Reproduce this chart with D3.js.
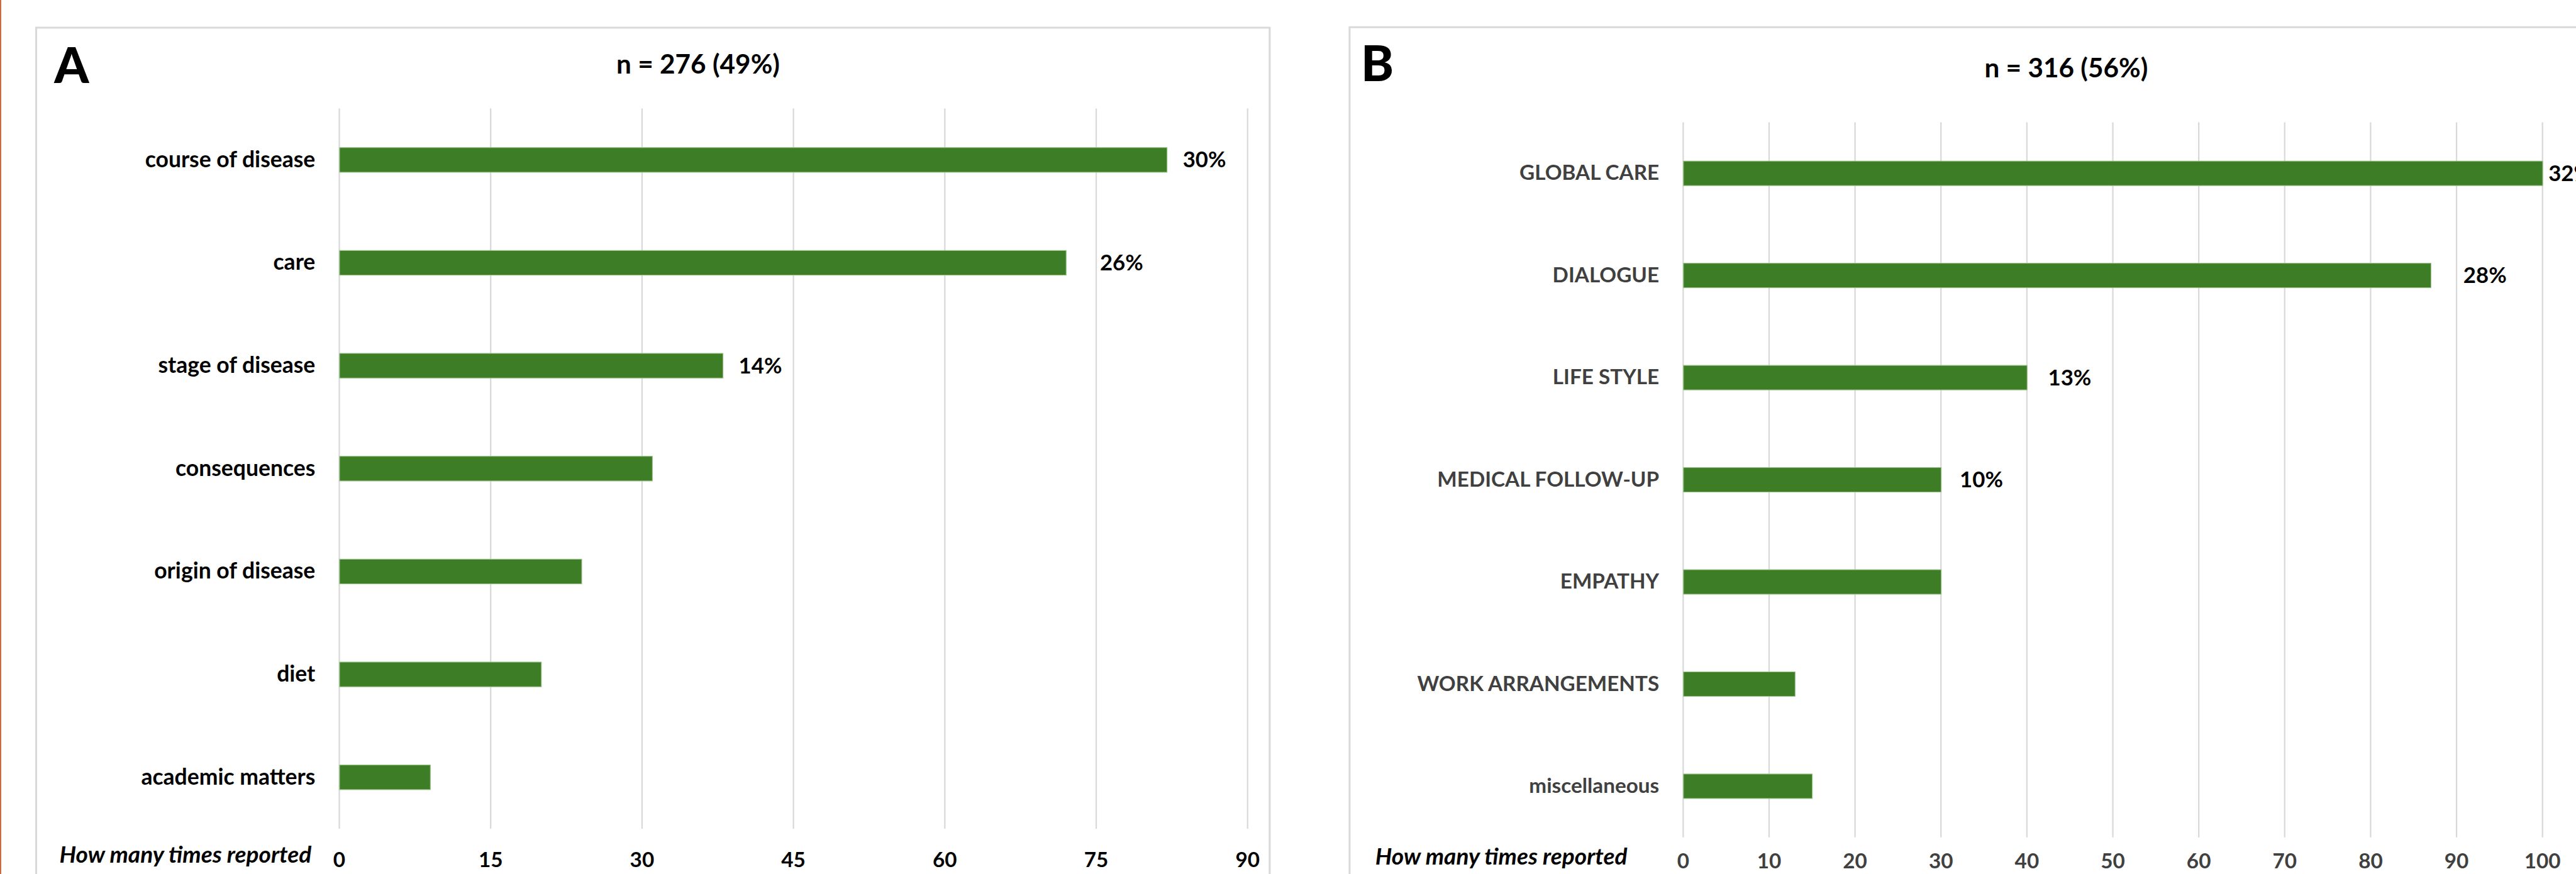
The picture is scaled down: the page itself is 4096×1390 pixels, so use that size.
<!DOCTYPE html>
<html>
<head>
<meta charset="utf-8">
<script src="https://cdn.jsdelivr.net/npm/d3@7"></script>
<style>
  html, body { margin: 0; padding: 0; background: #fff; overflow: hidden; }
  #viewer { width: 4096px; height: 1390px; }
  svg { display: block; }
</style>
</head>
<body>
<div id="viewer"></div>
<script>
// panel A
const categoriesA = ['course of disease', 'care', 'stage of disease', 'consequences', 'origin of disease', 'diet', 'academic matters'];
const valuesA = [82, 72, 38, 31, 24, 20, 9];
const labelsA = ['30%', '26%', '14%', '', '', '', ''];
const ticksA = [0, 15, 30, 45, 60, 75, 90];

// panel B
const categoriesB = ['GLOBAL CARE', 'DIALOGUE', 'LIFE STYLE', 'MEDICAL FOLLOW-UP', 'EMPATHY', 'WORK ARRANGEMENTS', 'miscellaneous'];
const valuesB = [100, 87, 40, 30, 30, 13, 15];
const labelsB = ['32%', '28%', '13%', '10%', '', '', ''];
const ticksB = [0, 10, 20, 30, 40, 50, 60, 70, 80, 90, 100];

const titles = ['n = 276 (49%)', 'n = 316 (56%)'];
const letters = ['A', 'B'];
const axisTitle = 'How many times reported';

const FONT = 'Lato, "Open Sans", sans-serif';
const GREEN = '#3d7d25';
const GRID = '#d9d9d9';

// drawn in the reference's own pixel space, scaled down by the viewBox
const svg = d3.select('#viewer').append('svg')
    .attr('width', 4096)
    .attr('height', 1390)
    .attr('viewBox', '0 0 5417 1838')
    .style('font-family', FONT)
    .style('font-weight', 'bold');

svg.append('rect').attr('width', 5417).attr('height', 1838).attr('fill', '#fff');

// orange page edge on the far left
svg.append('line')
    .attr('x1', 1).attr('x2', 1).attr('y1', 0).attr('y2', 1838)
    .attr('stroke', '#c8643a').attr('stroke-width', 3);

const panels = [
    {
        categories: categoriesA, values: valuesA, labels: labelsA, ticks: ticksA,
        title: titles[0], letter: letters[0],
        box: [76, 58, 2670], x0: 713, x1: 2623, yTop: 228, yBot: 1743,
        titleX: 1468, titleY: 155, letterX: 114, letterY: 174,
        axisTitleX: 125, axisTitleY: 1815, labelColor: '#000', tickColor: '#000',
        labelSize: 47, tickPad: 50,
        labelGap: [34, 72, 34, 40, 40, 40, 40]
    },
    {
        categories: categoriesB, values: valuesB, labels: labelsB, ticks: ticksB,
        title: titles[1], letter: letters[1],
        box: [2838, 57, 5430], x0: 3539, x1: 5346, yTop: 257, yBot: 1761,
        titleX: 4345, titleY: 163, letterX: 2862, letterY: 170,
        axisTitleX: 2892, axisTitleY: 1818, labelColor: '#404040', tickColor: '#404040',
        labelSize: 44, tickPad: 34,
        labelGap: [13, 69, 45, 40, 40, 40, 40]
    }
];

panels.forEach(drawPanel);

function drawPanel(p) {
    const g = svg.append('g');

    // chart area border (bottom runs off the picture)
    g.append('path')
        .attr('d', `M${p.box[0]},1860 V${p.box[1]} H${p.box[2]} V1860`)
        .attr('fill', 'none')
        .attr('stroke', GRID)
        .attr('stroke-width', 4);

    const xScale = d3.scaleLinear()
        .domain([0, p.ticks[p.ticks.length - 1]])
        .range([p.x0, p.x1]);

    const yScale = d3.scaleBand()
        .domain(p.categories)
        .range([p.yTop, p.yBot])
        .paddingInner(0.76)
        .paddingOuter(0.38);

    // vertical gridlines + value labels
    const xAxis = d3.axisBottom(xScale)
        .tickValues(p.ticks)
        .tickSizeInner(-(p.yBot - p.yTop))
        .tickSizeOuter(0)
        .tickPadding(p.tickPad);

    const gx = g.append('g')
        .attr('transform', `translate(0,${p.yBot})`)
        .call(xAxis);
    gx.select('.domain').remove();
    gx.selectAll('.tick line').attr('stroke', GRID).attr('stroke-width', 3);
    gx.selectAll('.tick text')
        .attr('fill', p.tickColor)
        .style('font-family', FONT)
        .style('font-size', '44px')
        .style('font-weight', 'bold');
    gx.attr('font-family', null).attr('font-size', null);

    // category labels
    const yAxis = d3.axisLeft(yScale).tickSize(0).tickPadding(50);
    const gy = g.append('g')
        .attr('transform', `translate(${p.x0},0)`)
        .call(yAxis);
    gy.select('.domain').remove();
    gy.selectAll('.tick text')
        .attr('fill', p.labelColor)
        .style('font-family', FONT)
        .style('font-size', p.labelSize + 'px')
        .style('font-weight', 'bold');
    gy.attr('font-family', null).attr('font-size', null);

    // bars
    g.append('g').selectAll('rect')
        .data(p.values)
        .join('rect')
        .attr('x', xScale(0) + 1)
        .attr('y', (d, i) => yScale(p.categories[i]))
        .attr('width', d => xScale(d) - xScale(0))
        .attr('height', yScale.bandwidth())
        .attr('fill', GREEN)
        .attr('stroke', '#9cc48c')
        .attr('stroke-width', 1.5);

    // data labels
    g.append('g').selectAll('text')
        .data(p.values)
        .join('text')
        .attr('x', (d, i) => xScale(d) + p.labelGap[i])
        .attr('y', (d, i) => yScale(p.categories[i]) + yScale.bandwidth() / 2)
        .attr('dy', '0.35em')
        .attr('fill', '#000')
        .style('font-size', '46px')
        .text((d, i) => p.labels[i]);

    // title, panel letter, axis caption
    g.append('text')
        .attr('x', p.titleX).attr('y', p.titleY)
        .attr('text-anchor', 'middle')
        .attr('fill', '#000')
        .style('font-size', '56px')
        .text(p.title);

    g.append('text')
        .attr('x', p.letterX).attr('y', p.letterY)
        .attr('fill', '#000')
        .style('font-size', '104px')
        .style('font-weight', 900)
        .text(p.letter);

    g.append('text')
        .attr('x', p.axisTitleX).attr('y', p.axisTitleY)
        .attr('fill', '#000')
        .style('font-size', '49px')
        .style('font-style', 'italic')
        .text(axisTitle);
}
</script>
</body>
</html>
